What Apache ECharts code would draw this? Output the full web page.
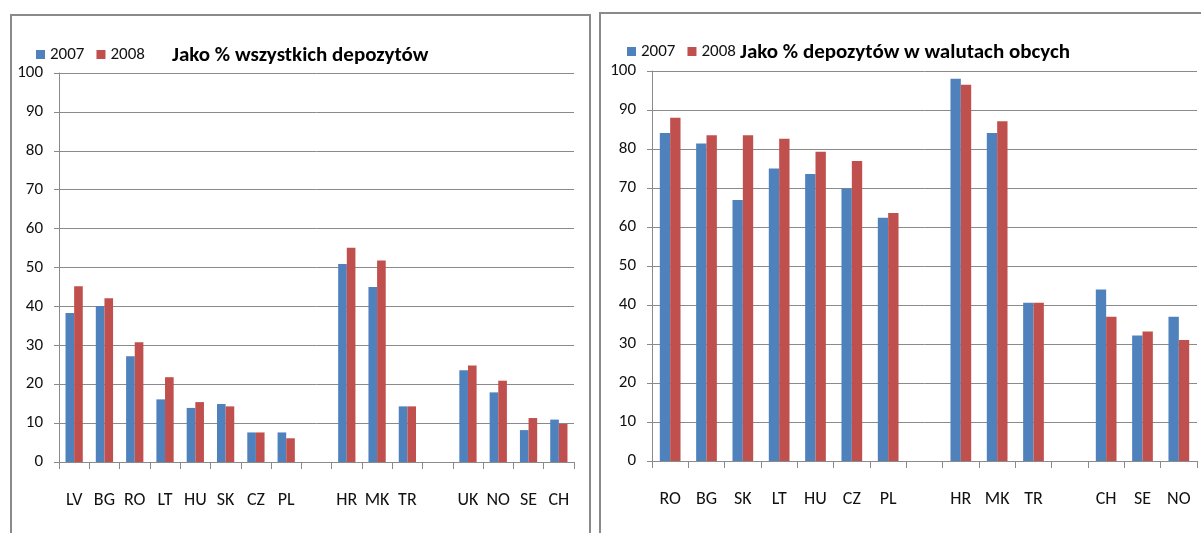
<!DOCTYPE html>
<html><head><meta charset="utf-8">
<script src="https://cdn.jsdelivr.net/npm/echarts@6/dist/echarts.min.js"></script>
<style>html,body{margin:0;padding:0;background:#fff}#c{width:1201px;height:533px}</style>
</head><body><div id="c"></div>
<script>
const leftCategories = ['LV','BG','RO','LT','HU','SK','CZ','PL',' ','HR','MK','TR','  ','UK','NO','SE','CH'];
const left2007 = [38.3,40.1,27.2,16.1,13.9,14.9,7.6,7.6,null,50.9,45.0,14.3,null,23.6,17.9,8.2,10.9];
const left2008 = [45.2,42.1,30.8,21.8,15.4,14.3,7.6,6.1,null,55.1,51.8,14.3,null,24.8,20.9,11.3,9.8];
const rightCategories = ['RO','BG','SK','LT','HU','CZ','PL',' ','HR','MK','TR','  ','CH','SE','NO'];
const right2007 = [84.1,81.4,66.9,75.0,73.6,69.9,62.4,null,98.0,84.1,40.6,null,44.0,32.2,37.0];
const right2008 = [88.0,83.5,83.5,82.6,79.3,76.9,63.6,null,96.5,87.1,40.6,null,37.0,33.2,31.0];
const seriesNames = ['2007','2008'];
const leftTitle = 'Jako % wszystkich depozytów';
const rightTitle = 'Jako % depozytów w walutach obcych';
const yMin = 0, yMax = 100, yInterval = 10;

const FONT = 'Carlito, "Liberation Sans", sans-serif';
const GRID_COLOR = '#8a8a8a';
const BLUE = '#4F81BD', RED = '#C0504D';

function xAxis(gridIndex, cats) {
  return {
    type: 'category', gridIndex, data: cats,
    axisLine: {lineStyle: {color: GRID_COLOR, width: 1}},
    axisTick: {show: true, interval: 0, length: 7, lineStyle: {color: GRID_COLOR}},
    axisLabel: {interval: 0, margin: 29, color: '#111', fontSize: 18, fontFamily: FONT}
  };
}
function yAxis(gridIndex) {
  return {
    type: 'value', gridIndex, min: yMin, max: yMax, interval: yInterval,
    axisLine: {show: true, lineStyle: {color: GRID_COLOR, width: 1}},
    axisTick: {show: true, length: 5, lineStyle: {color: GRID_COLOR}},
    splitLine: {show: true, lineStyle: {color: GRID_COLOR, width: 1}},
    axisLabel: {margin: 16, color: '#111', fontSize: 17, fontFamily: FONT}
  };
}
function bar(name, data, color, idx) {
  return {
    type: 'bar', name, data, xAxisIndex: idx, yAxisIndex: idx,
    barGap: '0%', barCategoryGap: '43%',
    itemStyle: {color},
    emphasis: {disabled: true}
  };
}
const legendBase = {
  itemWidth: 9, itemHeight: 9, itemGap: 12, icon: 'rect',
  data: seriesNames,
  textStyle: {fontSize: 17, color: '#111', fontFamily: FONT}
};
const chart = echarts.init(document.getElementById('c'), null, {renderer: 'canvas'});
chart.setOption({
  animation: false,
  color: [BLUE, RED],
  graphic: [
    {type: 'rect', shape: {x: 11, y: 15, width: 579, height: 600}, style: {fill: 'none', stroke: '#8a8a8a', lineWidth: 2}, silent: true},
    {type: 'rect', shape: {x: 600, y: 13, width: 700, height: 600}, style: {fill: 'none', stroke: '#8a8a8a', lineWidth: 2}, silent: true}
  ],
  title: [
    {text: leftTitle, left: 172, top: 45, padding: 0, textStyle: {fontSize: 21, fontWeight: 'bold', color: '#000', fontFamily: FONT}},
    {text: rightTitle, left: 740, top: 42, padding: 0, textStyle: {fontSize: 21, fontWeight: 'bold', color: '#000', fontFamily: FONT}}
  ],
  legend: [
    Object.assign({}, legendBase, {left: 31, top: 41}),
    Object.assign({}, legendBase, {left: 622, top: 38})
  ],
  grid: [
    {left: 59, top: 73, width: 515, height: 389, containLabel: false},
    {left: 652, top: 71, width: 545, height: 390, containLabel: false}
  ],
  xAxis: [xAxis(0, leftCategories), xAxis(1, rightCategories)],
  yAxis: [yAxis(0), yAxis(1)],
  series: [
    bar(seriesNames[0], left2007, BLUE, 0),
    bar(seriesNames[1], left2008, RED, 0),
    bar(seriesNames[0], right2007, BLUE, 1),
    bar(seriesNames[1], right2008, RED, 1)
  ]
});
</script></body></html>
